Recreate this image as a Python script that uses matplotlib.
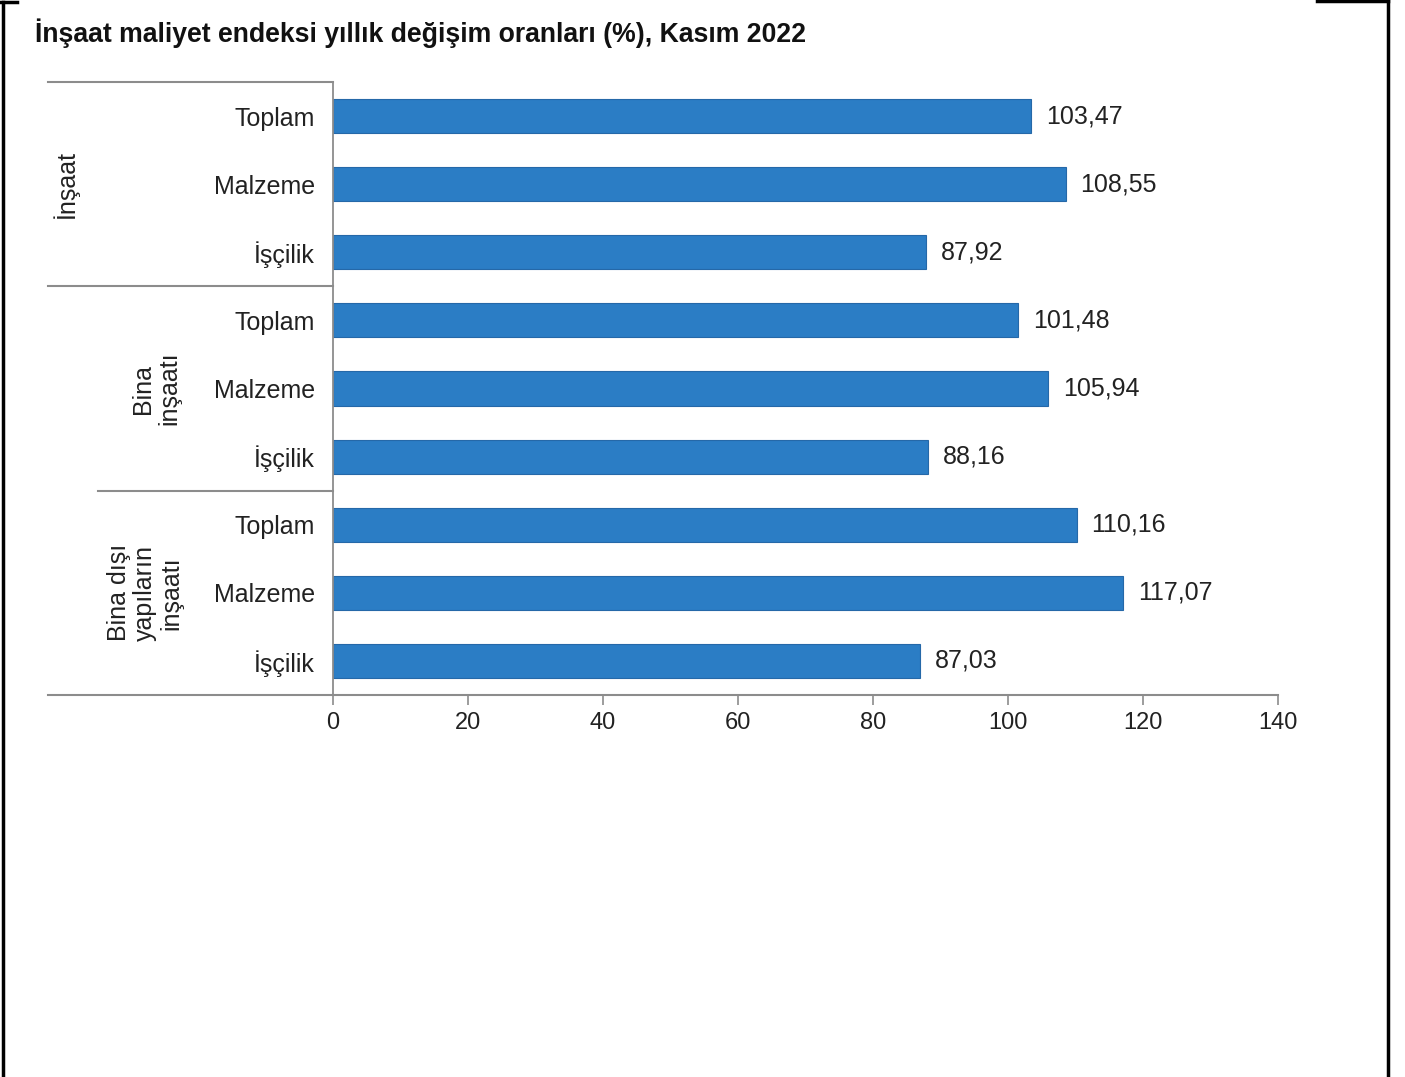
import matplotlib
matplotlib.use("Agg")
import matplotlib.pyplot as plt
from matplotlib.lines import Line2D
import matplotlib.transforms as mtransforms

plt.rcParams['font.family'] = ['Liberation Sans', 'DejaVu Sans']

title = "İnşaat maliyet endeksi yıllık değişim oranları (%), Kasım 2022"
groups = ["İnşaat", "Bina\ninşaatı", "Bina dışı\nyapıların\ninşaatı"]
items = ["Toplam", "Malzeme", "İşçilik"]
values = [103.47, 108.55, 87.92,
          101.48, 105.94, 88.16,
          110.16, 117.07, 87.03]
xticks = [0, 20, 40, 60, 80, 100, 120, 140]

W, H = 1405, 1077
fig = plt.figure(figsize=(W / 100, H / 100), dpi=100)
fig.patch.set_facecolor('white')

ax_l, ax_r, ax_t, ax_b = 333, 1278, 82, 695
ax = fig.add_axes([ax_l / W, 1 - ax_b / H, (ax_r - ax_l) / W, (ax_b - ax_t) / H])

bar_color = '#2B7DC5'
grey = '#8C8C8C'
text_color = '#222222'

labels = items * len(groups)
ypos = list(range(len(values)))
ax.barh(ypos, values, height=0.5, color=bar_color, edgecolor='#2568A8', linewidth=0.8, zorder=2)
for y, v in zip(ypos, values):
    ax.text(v + 2.2, y, f"{v:.2f}".replace('.', ','), va='center', ha='left',
            fontsize=18, color=text_color)

ax.set_ylim(len(values) - 0.5, -0.5)
ax.set_xlim(0, 140)
ax.set_yticks(ypos)
ax.set_yticklabels(labels, fontsize=18, color=text_color)
ax.tick_params(axis='y', length=0, pad=13)
ax.set_xticks(xticks)
ax.set_xticklabels([str(t) for t in xticks], fontsize=17, color=text_color)
ax.tick_params(axis='x', direction='out', length=7.5, width=1.2, color=grey, pad=5)

for s in ['top', 'right']:
    ax.spines[s].set_visible(False)
ax.spines['left'].set_color(grey)
ax.spines['left'].set_linewidth(1.3)
ax.spines['bottom'].set_color(grey)
ax.spines['bottom'].set_linewidth(1.5)

# group separators extending into the label area
trans = mtransforms.blended_transform_factory(ax.transAxes, ax.transData)
def xfrac(px):
    return (px - ax_l) / (ax_r - ax_l)

for yb, xstart in [(-0.5, 48), (2.5, 48), (5.5, 98), (8.5, 48)]:
    ax.add_line(Line2D([xfrac(xstart), 0], [yb, yb], transform=trans,
                       color=grey, linewidth=1.5, clip_on=False))

# group labels
group_x = [65, 156, 145]
for g, gx, yc in zip(groups, group_x, [1, 4, 7]):
    ax.text(xfrac(gx), yc, g, transform=trans, rotation=90, ha='center', va='center',
            fontsize=18, color=text_color, linespacing=1.1, multialignment='center')

fig.text(35 / W, 1 - 33 / H, title, fontsize=19.2, fontweight='bold',
         ha='left', va='center', color='#111111')

# frame lines
def fl(xs, ys):
    fig.add_artist(Line2D([x / W for x in xs], [1 - y / H for y in ys],
                          color='black', linewidth=2.5, transform=fig.transFigure))

fl([2.5, 2.5], [1.5, H])
fl([0, 17], [1.5, 1.5])
fl([1317, 1388], [1, 1])
fl([1388, 1388], [1, H])

fig.savefig('out.png', dpi=100, facecolor='white')
